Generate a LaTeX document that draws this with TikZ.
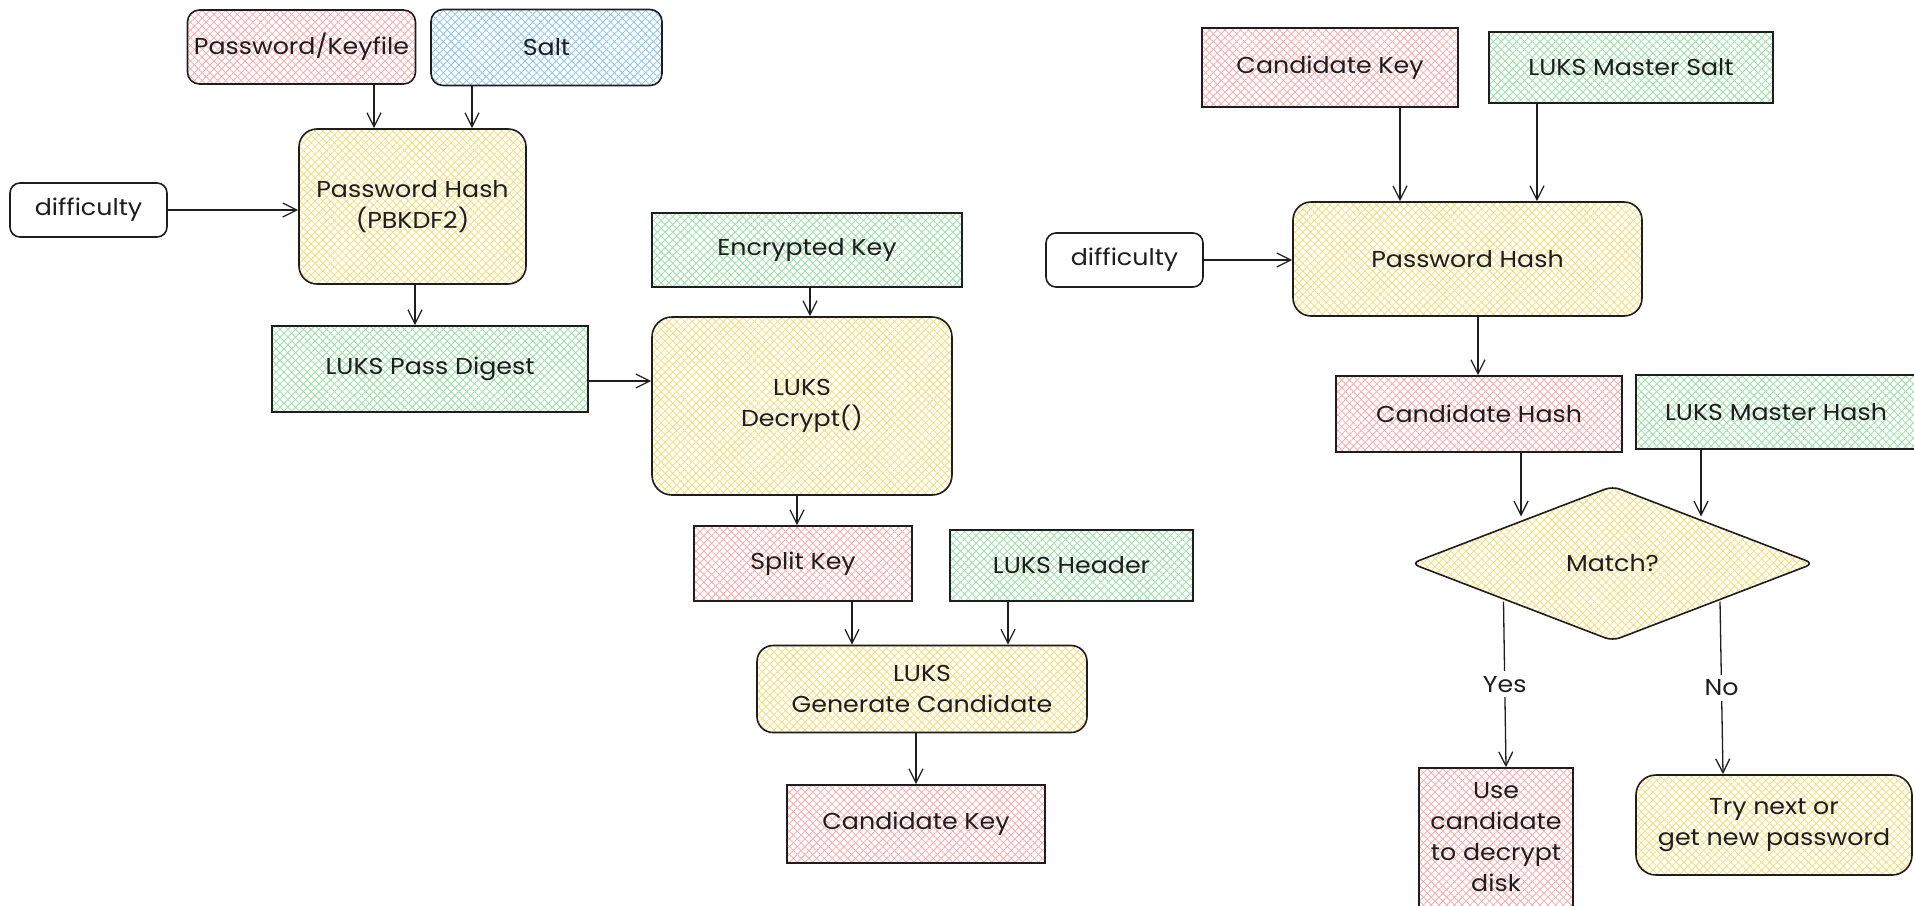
\documentclass[tikz,border=0pt]{standalone}
\usepackage{fontspec}
\setmainfont{Poppins}[FakeStretch=1.1]
\usetikzlibrary{arrows.meta,patterns.meta,shapes.geometric}

\definecolor{ink}{HTML}{1E1E1E}
\definecolor{pinkH}{HTML}{FFAAAA}
\definecolor{greenH}{HTML}{98E2A4}
\definecolor{blueH}{HTML}{8AC8F4}
\definecolor{yellowH}{HTML}{F8DD74}

\tikzset{
  x=1pt, y=-1pt,
  every node/.style={font=\fontsize{23}{31}\selectfont, text=ink, align=center, inner sep=2pt},
  hatch/.style={
    preaction={pattern={Lines[angle=45,distance=5.5pt,line width=0.8pt]}, pattern color=#1},
    preaction={pattern={Lines[angle=-45,distance=5.5pt,line width=0.8pt]}, pattern color=#1}},
  sq/.style 2 args={draw=ink, line width=1.6pt, rectangle, minimum width=#1, minimum height=#2},
  rd/.style n args={3}{sq={#1}{#2}, rounded corners=#3},
  pink/.style={hatch=pinkH},
  green/.style={hatch=greenH},
  blue/.style={hatch=blueH},
  yellow/.style={hatch=yellowH},
  arr/.style={draw=ink, line width=1.3pt, -{Straight Barb[length=14pt,width=14pt,line width=1.3pt]}},
  lbl/.style={fill=white, inner sep=5pt},
}

\begin{document}
\begin{tikzpicture}
\useasboundingbox (0,0) rectangle (1914,905);
\fill[white] (0,0) rectangle (1914,905);
\clip (0,0) rectangle (1914,905);

% ---- unlocking with a password ----
\node[rd={228pt}{74pt}{12pt}, pink]   (pwkf)    at (301.5,47)  {Password/Keyfile};
\node[rd={231pt}{76pt}{12pt}, blue]   (salt)    at (546.5,47.5) {Salt};
\node[rd={227pt}{155pt}{18pt}, yellow] (hash1)  at (412.5,206.5) {Password Hash\\(PBKDF2)};
\node[rd={157pt}{54pt}{10pt}]         (diff1)   at (88.5,210)  {difficulty};
\node[sq={316pt}{86pt}, green]        (digest)  at (430,369)   {LUKS Pass Digest};
\node[sq={310pt}{74pt}, green]        (enckey)  at (807,250)   {Encrypted Key};
\node[rd={300pt}{178pt}{20pt}, yellow] (decrypt) at (802,406)  {LUKS\\Decrypt()};
\node[sq={218pt}{75pt}, pink]         (split)   at (803,563.5) {Split Key};
\node[sq={243pt}{71pt}, green]        (header)  at (1071.5,565.5) {LUKS Header};
\node[rd={330pt}{87pt}{16pt}, yellow] (gen)     at (922,689)   {LUKS\\Generate Candidate};
\node[sq={258pt}{78pt}, pink]         (ck1)     at (916,824)   {Candidate Key};

\draw[arr] ([xshift=72.5pt]pwkf.south) -- ([xshift=-38.5pt]hash1.north);
\draw[arr] ([xshift=-74.5pt]salt.south) -- ([xshift=59.5pt]hash1.north);
\draw[arr] (diff1.east) -- (diff1.east -| hash1.west);
\draw[arr] ([xshift=2.5pt]hash1.south) -- ([xshift=-15pt]digest.north);
\draw[arr] ([yshift=-12pt]digest.east) -- ([yshift=25pt]decrypt.west);
\draw[arr] ([xshift=3pt]enckey.south) -- ([xshift=8pt]decrypt.north);
\draw[arr] ([xshift=-5pt]decrypt.south) -- ([xshift=-6pt]split.north);
\draw[arr] ([xshift=49pt]split.south) -- ([xshift=-70pt]gen.north);
\draw[arr] ([xshift=-63.5pt]header.south) -- ([xshift=86pt]gen.north);
\draw[arr] ([xshift=-6pt]gen.south) -- (ck1.north);

% ---- checking a candidate key ----
\node[sq={256pt}{79pt}, pink]         (ck2)     at (1330,67.5) {Candidate Key};
\node[sq={284pt}{71pt}, green]        (msalt)   at (1631,67.5) {LUKS Master Salt};
\node[rd={157pt}{54pt}{10pt}]         (diff2)   at (1124.5,260) {difficulty};
\node[rd={349pt}{114pt}{18pt}, yellow] (hash2)  at (1467.5,259) {Password Hash};
\node[sq={286pt}{76pt}, pink]         (chash)   at (1479,414)  {Candidate Hash};
\node[sq={280pt}{74pt}, green]        (mhash)   at (1776,412)  {LUKS Master Hash};
\node[draw=ink, line width=1.6pt, diamond, rounded corners=8pt, inner sep=0pt,
      minimum width=403pt, minimum height=155pt, yellow] (match) at (1612.5,563.5) {Match?};
\node[sq={154pt}{139pt}, pink]        (use)     at (1496,837.5) {Use\\candidate\\to decrypt\\disk};
\node[rd={276pt}{100pt}{20pt}, yellow] (try)    at (1774,825)  {Try next or\\get new password};

\draw[arr] ([xshift=70pt]ck2.south) -- ([xshift=-67.5pt]hash2.north);
\draw[arr] ([xshift=-94pt]msalt.south) -- ([xshift=69.5pt]hash2.north);
\draw[arr] (diff2.east) -- (diff2.east -| hash2.west);
\draw[arr] ([xshift=10.5pt]hash2.south) -- ([xshift=-1pt]chash.south |- chash.north);
\draw[arr] ([xshift=42pt]chash.south) -- ([xshift=-91.5pt,yshift=47pt]match.center);
\draw[arr] ([xshift=-75pt]mhash.south) -- ([xshift=88.5pt,yshift=47pt]match.center);
\draw[arr] ([xshift=-109pt,yshift=-38pt]match.center) -- node[lbl] {Yes} ([xshift=10pt]use.north);
\draw[arr] ([xshift=107.5pt,yshift=-38pt]match.center) -- node[lbl] {No} ([xshift=-51pt]try.north);
\end{tikzpicture}
\end{document}
